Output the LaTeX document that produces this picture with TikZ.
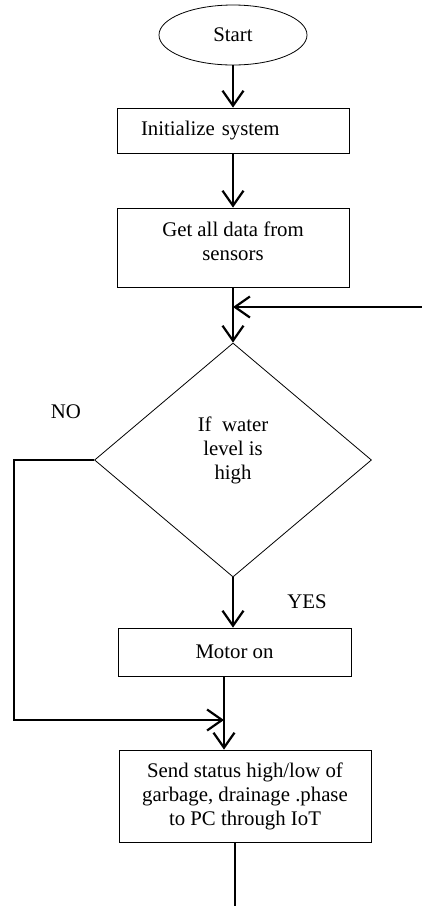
\documentclass[tikz,border=0pt]{standalone}
\usepackage{fontspec}
\setmainfont{Liberation Serif}
\usepackage{tikz}
\usetikzlibrary{calc,shapes.geometric,arrows.meta}

\begin{document}
\begin{tikzpicture}[x=1pt,y=-1pt,
    font=\fontsize{20.8}{24}\selectfont,
    box/.style={draw,line width=0.8pt,inner sep=0pt,align=center},
    link/.style={line width=2pt},
    flow/.style={link,-{Straight Barb[length=15pt,width=21pt,line width=2.2pt]}}]
  \useasboundingbox (0,0) rectangle (422,906);

  % main axis of the chart
  \def\cx{233}

  % blocks
  \node[box,ellipse,minimum width=148pt,minimum height=60pt] (start) at (\cx,35) {Start};
  \node[box,minimum height=45pt,inner xsep=24pt,text width=184pt,align=left] (init) at (\cx,130.5) {Initialize system};
  \node[box,minimum width=232pt,minimum height=79pt] (data) at (\cx,247.5) {Get all data from\\sensors\\[-12pt]};
  \node[box,diamond,minimum width=277pt,minimum height=234pt] (cond) at (\cx,460) {If\ \ water\\level is\\high\\[0pt]};
  \node[box,minimum width=233pt,minimum height=48pt] (motor) at (234.5,652) {Motor on};
  \node[box,minimum width=252pt,minimum height=92pt] (send) at (245,796) {Send status high/low of\\garbage, drainage .phase\\to PC through IoT};

  % branch labels
  \node (no) at (66,412) {NO};
  \node (yes) at (307,602) {YES};

  % helper points for the loose ends
  \coordinate (back) at (422,307);
  \coordinate (join) at (224,720);
  \coordinate (corner) at (14,460);
  \coordinate (tail) at (235,906);

  % connectors
  \draw[flow] (start) -- (init);
  \draw[flow] (init) -- (data);
  \draw[flow] (data) -- (cond);
  \draw[flow] (back) -- (back -| data.south);
  \draw[flow] (cond.south) -- (cond.south |- motor.north);
  \draw[flow] (cond.west) -- (corner) -- (corner |- join) -- (join);
  \draw[flow] (join |- motor.south) -- (join |- send.north);
  \draw[link] (tail |- send.south) -- (tail);
\end{tikzpicture}
\end{document}
